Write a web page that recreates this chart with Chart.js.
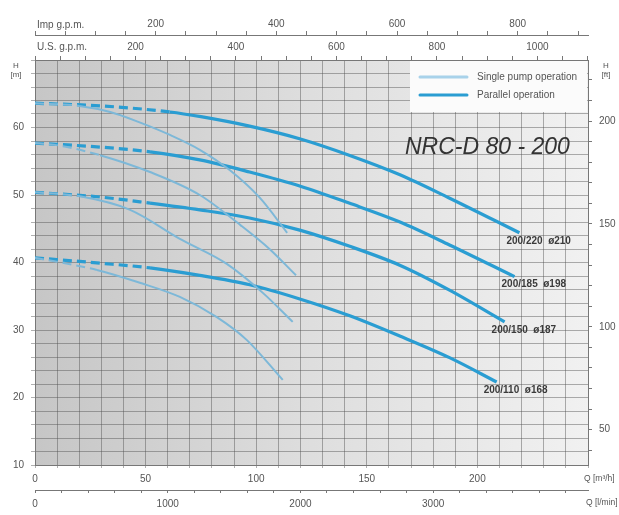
<!DOCTYPE html>
<html>
<head>
    <title>NRC-D 80 - 200</title>
    <style>
        body {
            margin: 0;
            padding: 0;
            background: #fff;
        }

        #wrap {
            width: 619px;
            height: 515px;
        }
    </style>
</head>
<body>
    <div id="wrap"><canvas id="pumpChart"></canvas></div>
    <script src="https://cdn.jsdelivr.net/npm/chart.js"></script>
    <script>
        // flow Q in m3/h, head H in m
        var q210par = [0, 30, 61, 75, 97, 120, 142, 165, 187, 219];
        var h210par = [63.6, 63.2, 62.3, 61.6, 60.2, 58.3, 55.9, 53.0, 49.6, 44.4];
        var q210one = [0, 20, 34, 47, 61, 74.5, 88, 101.6, 114];
        var h210one = [63.6, 63.2, 62.3, 60.8, 58.9, 56.7, 53.7, 49.6, 44.4];

        var q198par = [0, 29.4, 52, 74.5, 97, 120, 142, 165, 187.4, 216.8];
        var h198par = [57.7, 57.1, 56.4, 55.2, 53.4, 51.3, 48.8, 46.0, 42.6, 37.9];
        var q198one = [0, 11.3, 29.4, 52, 74.5, 93, 106, 118];
        var h198one = [57.7, 57.3, 55.9, 53.4, 50.0, 45.5, 42.0, 38.1];

        var q187par = [0, 29.4, 52, 74.5, 97, 119.7, 142.3, 164.9, 187.4, 212.3];
        var h187par = [50.4, 49.7, 48.8, 47.8, 46.6, 44.8, 42.4, 39.6, 35.9, 31.2];
        var q187one = [0, 20.3, 43, 65.5, 86.7, 103, 116.5];
        var h187one = [50.4, 49.8, 47.8, 43.5, 39.8, 35.5, 31.2];

        var q168par = [0, 29.4, 52, 74.5, 97.1, 119.7, 142.3, 164.9, 187.4, 208.7];
        var h168par = [40.7, 39.9, 39.2, 38.1, 36.7, 34.6, 32.1, 29.1, 25.9, 22.3];
        var q168one = [0, 28, 47.4, 65.5, 82.2, 95.8, 112];
        var h168one = [40.7, 38.9, 37.0, 34.9, 31.9, 28.5, 22.6];

        var curveNames = ['200/220  ø210', '200/185  ø198', '200/150  ø187', '200/110  ø168'];

        var singleColor = '#7db8d8';
        var parallelColor = '#2a9dd2';

        function pts(q, h) {
            var out = [];
            for (var i = 0; i < q.length; i++) {
                out.push({ x: q[i], y: h[i] });
            }
            return out;
        }

        function curve(label, q, h, parallel) {
            var dashTo = parallel ? 62 : 32;
            return {
                label: label,
                data: pts(q, h),
                borderColor: parallel ? parallelColor : singleColor,
                borderWidth: parallel ? 3.2 : 2,
                pointRadius: 0,
                cubicInterpolationMode: 'monotone',
                fill: false,
                parallel: parallel,
                segment: {
                    borderDash: function(ctx) {
                        return ctx.p1.parsed.x <= dashTo ? [9, 5] : undefined;
                    }
                }
            };
        }

        // single pump curves first so the parallel ones sit on top
        var datasets = [
            curve('single 210', q210one, h210one, false),
            curve('single 198', q198one, h198one, false),
            curve('single 187', q187one, h187one, false),
            curve('single 168', q168one, h168one, false),
            curve(curveNames[0], q210par, h210par, true),
            curve(curveNames[1], q198par, h198par, true),
            curve(curveNames[2], q187par, h187par, true),
            curve(curveNames[3], q168par, h168par, true)
        ];

        var tickFont = { family: 'Liberation Sans', size: 10 };
        var tickColor = '#555';
        var axisLine = '#777';

        // label only every n-th unit
        function every(n, skipZero, upTo) {
            return function(v) {
                var r = Math.round(v);
                if (Math.abs(v - r) > 1e-6 || r % n !== 0) return '';
                if (skipZero && r === 0) return '';
                if (upTo !== undefined && r >= upTo) return '';
                return r;
            };
        }

        // chart.js stretches the step when max/step is nearly whole, so set ticks by hand
        function stepTicks(step) {
            return function(scale) {
                var t = [];
                var v = Math.ceil(scale.min / step) * step;
                for (; v <= scale.max + 1e-9; v += step) {
                    t.push({ value: v });
                }
                scale.ticks = t;
            };
        }

        function fixHeight(h) {
            return function(scale) { scale.height = h; };
        }
        function fixWidth(w) {
            return function(scale) { scale.width = w; };
        }

        var decor = {
            id: 'decor',
            beforeDraw: function(chart) {
                var a = chart.chartArea, c = chart.ctx;
                var g = c.createLinearGradient(a.left, 0, a.right, 0);
                g.addColorStop(0, '#c6c6c6');
                g.addColorStop(0.5, '#dedede');
                g.addColorStop(1, '#f1f1f1');
                c.save();
                c.fillStyle = g;
                c.fillRect(a.left, a.top, a.right - a.left, a.bottom - a.top);
                c.restore();
            },
            beforeDatasetsDraw: function(chart) {
                // legend box covers the grid
                var a = chart.chartArea, c = chart.ctx;
                var x0 = a.right - 178, y0 = a.top + 1;
                c.save();
                c.fillStyle = '#fbfbfb';
                c.fillRect(x0, y0, 177, 51);
                c.lineCap = 'round';
                c.lineWidth = 3;
                c.strokeStyle = '#a8d2ea';
                c.beginPath(); c.moveTo(x0 + 10, y0 + 16); c.lineTo(x0 + 57, y0 + 16); c.stroke();
                c.strokeStyle = parallelColor;
                c.beginPath(); c.moveTo(x0 + 10, y0 + 34); c.lineTo(x0 + 57, y0 + 34); c.stroke();
                c.fillStyle = '#555';
                c.font = '10px "Liberation Sans"';
                c.textBaseline = 'middle';
                c.fillText('Single pump operation', x0 + 67, y0 + 16);
                c.fillText('Parallel operation', x0 + 67, y0 + 34);
                c.restore();
            },
            afterDatasetsDraw: function(chart) {
                var c = chart.ctx, xs = chart.scales.x, ys = chart.scales.y, a = chart.chartArea;
                c.save();
                c.fillStyle = '#333';
                c.font = 'italic 23px "Liberation Sans"';
                c.textBaseline = 'middle';
                c.fillText('NRC-D 80 - 200', a.right - 183, ys.getPixelForValue(57.0));

                // size labels at the end of each parallel curve
                c.font = 'bold 10px "Liberation Sans"';
                c.fillStyle = '#3a3a3a';
                c.textBaseline = 'top';
                chart.data.datasets.forEach(function(ds) {
                    if (!ds.parallel) return;
                    var last = ds.data[ds.data.length - 1];
                    c.fillText(ds.label, xs.getPixelForValue(last.x) - 13, ys.getPixelForValue(last.y) + 3);
                });
                c.restore();
            },
            afterDraw: function(chart) {
                var c = chart.ctx, s = chart.scales;
                c.save();
                c.fillStyle = '#555';
                c.font = '10px "Liberation Sans"';
                c.textBaseline = 'middle';
                c.textAlign = 'left';
                c.fillText('Imp g.p.m.', s.imp.left + 2, s.imp.bottom - 10);
                c.fillText('U.S. g.p.m.', s.usg.left + 2, s.usg.bottom - 13);
                c.font = '8.5px "Liberation Sans"';
                c.fillText('Q [m\u00b3/h]', s.x.right - 4, s.x.top + 14);
                c.fillText('Q [l/min]', s.lpm.right - 2, s.lpm.top + 13);
                c.textAlign = 'center';
                c.font = '8px "Liberation Sans"';
                c.fillText('H', s.y.right - 19, s.y.top + 6);
                c.fillText('[m]', s.y.right - 19, s.y.top + 15);
                c.fillText('H', s.ft.left + 18, s.ft.top + 6);
                c.fillText('[ft]', s.ft.left + 18, s.ft.top + 15);
                c.restore();
            }
        };

        new Chart(document.getElementById('pumpChart'), {
            type: 'line',
            data: { datasets: datasets },
            options: {
                responsive: true,
                maintainAspectRatio: false,
                animation: false,
                layout: { padding: 0 },
                plugins: {
                    legend: { display: false },
                    tooltip: { enabled: false }
                },
                scales: {
                    x: {
                        type: 'linear',
                        position: 'bottom',
                        min: 0,
                        max: 250,
                        weight: 0,
                        afterFit: fixHeight(25),
                        afterBuildTicks: stepTicks(10),
                        border: { color: axisLine },
                        grid: { color: 'rgba(80,80,80,0.45)', tickLength: 3 },
                        ticks: {
                            autoSkip: false,
                            maxRotation: 0,
                            padding: 5,
                            font: tickFont,
                            color: tickColor,
                            callback: every(50, false, 250)
                        }
                    },
                    lpm: {
                        type: 'linear',
                        position: 'bottom',
                        min: 0,
                        max: 250 * 1000 / 60,
                        weight: 1,
                        afterFit: fixHeight(25),
                        afterBuildTicks: stepTicks(200),
                        border: { color: axisLine },
                        grid: { drawOnChartArea: false, color: axisLine, tickLength: 3 },
                        ticks: {
                            autoSkip: false,
                            maxRotation: 0,
                            padding: 5,
                            font: tickFont,
                            color: tickColor,
                            callback: every(1000, false, 4000)
                        }
                    },
                    usg: {
                        type: 'linear',
                        position: 'top',
                        min: 0,
                        max: 250 * 4.4029,
                        weight: 1,
                        afterFit: fixHeight(25),
                        afterBuildTicks: stepTicks(50),
                        border: { color: axisLine },
                        grid: { drawOnChartArea: false, color: axisLine, tickLength: 4 },
                        ticks: {
                            autoSkip: false,
                            maxRotation: 0,
                            padding: 3,
                            font: tickFont,
                            color: tickColor,
                            callback: every(200, true)
                        }
                    },
                    imp: {
                        type: 'linear',
                        position: 'top',
                        min: 0,
                        max: 250 * 3.6662,
                        weight: 2,
                        afterFit: fixHeight(35),
                        afterBuildTicks: stepTicks(50),
                        border: { color: axisLine },
                        grid: { drawOnChartArea: false, color: axisLine, tickLength: 4 },
                        ticks: {
                            autoSkip: false,
                            maxRotation: 0,
                            padding: 1,
                            font: tickFont,
                            color: tickColor,
                            callback: every(200, true)
                        }
                    },
                    y: {
                        type: 'linear',
                        position: 'left',
                        min: 10,
                        max: 70,
                        afterFit: fixWidth(35),
                        afterBuildTicks: stepTicks(2),
                        border: { color: axisLine },
                        grid: { color: 'rgba(80,80,80,0.45)', tickLength: 4 },
                        ticks: {
                            autoSkip: false,
                            padding: 7,
                            font: tickFont,
                            color: tickColor,
                            callback: every(10, false, 70)
                        }
                    },
                    ft: {
                        type: 'linear',
                        position: 'right',
                        min: 10 / 0.3048,
                        max: 70 / 0.3048,
                        afterFit: fixWidth(31),
                        afterBuildTicks: stepTicks(10),
                        border: { color: axisLine },
                        grid: { drawOnChartArea: false, color: axisLine, tickLength: 4 },
                        ticks: {
                            autoSkip: false,
                            padding: 7,
                            font: tickFont,
                            color: tickColor,
                            callback: every(50, false)
                        }
                    }
                }
            },
            plugins: [decor]
        });
    </script>
</body>
</html>
